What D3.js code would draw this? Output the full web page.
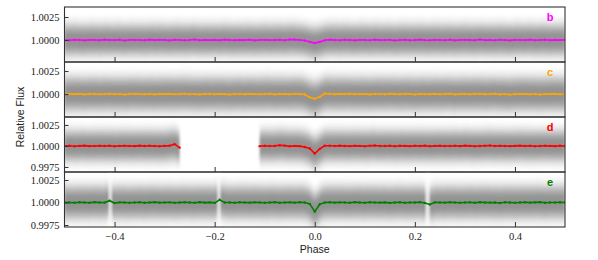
<!DOCTYPE html>
<html lang="en">
<head>
  <meta charset="UTF-8">
  <title>phase folded light curves</title>
  <script src="https://cdn.jsdelivr.net/npm/d3@7"></script>
  <style>
    body { margin: 0; background: #fff; }
  </style>
</head>
<body>
  <svg width="598" height="260" id="mainsvg"></svg>
  <script>
    // planets and their colours
    const planets = ['b', 'c', 'd', 'e'];
    const planetColors = ['#ff00ff', '#ffa500', '#ff0000', '#008000'];

    // tick labels
    const phaseTicks = [-0.4, -0.2, 0.0, 0.2, 0.4];
    const fluxTicks = [
      [1.0000, 1.0025],
      [1.0000, 1.0025],
      [0.9975, 1.0000, 1.0025],
      [0.9975, 1.0000, 1.0025]
    ];
    // y limits of each panel
    const fluxLimits = [
      [0.99761, 1.00359],
      [0.99752, 1.00348],
      [0.99690, 1.00345],
      [0.99728, 1.00339]
    ];

    // binned flux, offset from 1 in ppm, bins at phase -0.50 ... 0.50 (step 0.01)
    const bBinned = [
      10, -20, 30, 0, -40, 20, 10, -30, 40, 0,
      -10, 30, -50, 20, 0, 10, -30, 40, -10, 20,
      0, -40, 30, 10, -20, 0, 50, -30, 10, -10,
      20, -20, 40, 0, -30, 10, -10, 30, -40, 0,
      20, -10, 10, 30, -20, 60, 40, 0, -60, -200,
      -330,
      -200, -30, 40, 10, -20, 30, 0, -40, 20, 10,
      -30, 40, -10, 0, 20, -50, 10, 30, -20, 0,
      40, -10, -30, 20, 0, -20, 30, -40, 10, 20,
      0, -30, 50, -10, 10, -20, 30, 0, -40, 20,
      10, -10, 40, -20, 0, 30, -30, 10, -10, 20
    ];
    const cBinned = [
      -20, 10, 0, 30, -30, 10, 20, -10, 0, 40,
      -20, 10, -40, 20, 30, 0, -10, 20, -30, 10,
      0, 30, -20, 10, 40, -10, 0, -30, 20, 10,
      -10, 30, 0, -40, 20, 10, -20, 30, 0, -10,
      20, 40, -30, 10, 0, -20, 30, 10, -40, -350,
      -500,
      -300, 60, 20, -10, 30, 0, 40, -20, 10, 0,
      -30, 20, 10, -10, 40, 0, -20, 30, 10, -40,
      20, 0, -10, 30, -20, 10, 40, -30, 0, 20,
      -10, 10, 30, -20, 0, 40, -30, 10, -60, 20,
      0, 30, -10, 20, -40, 10, 0, 30, -20, 10
    ];
    const dBinned = [
      0, 20, -30, 10, 40, -20, 0, 30, -10, 20,
      -40, 10, 30, 0, -20, 40, -10, 20, 0, -30,
      10, 30, 220, -200,
      null, null, null, null, null, null, null, null, null, null, null, null, null, null, null,
      -20, 30, 0, 10, 90, 40, -30, 10, -20, -120, -300,
      -900,
      -350, 20, 30, -10, 40, 0, -20, 30, 10, -30,
      20, 50, -10, 0, 30, -40, 20, 10, -20, 30,
      0, 40, -30, 10, 20, -10, 0, 30, -20, 40,
      10, -30, 0, 20, 50, -10, 30, 0, -20, 10,
      40, -10, 20, -30, 0, 30, 10, -20, 20, 0
    ];
    const eBinned = [
      20, 0, -30, 30, 10, -20, 40, 0, -10, 200,
      -60, 20, 10, -30, 0, 30, -20, 10, 40, -10,
      0, 20, -30, 10, 30, 0, -20, 40, -10, 20,
      -40, 300, 10, 0, -20, 30, 10, -10, 20, 0,
      -30, 10, 40, -20, 0, 20, -10, 30, 0, -150,
      -1000,
      -200, 0, 30, -10, 20, 0, -30, 40, 10, -20,
      30, 0, -10, 20, -40, 10, 30, -20, 0, 10,
      40, -60, -220, 20, 0, -10, 30, 10, -30, 0,
      20, -20, 40, 10, -10, 0, -50, 30, 10, -20,
      0, 30, -10, 20, 40, -20, 10, 0, 30, 10
    ];
    const binnedPpm = [bBinned, cBinned, dBinned, eBinned];

    // spread of the unbinned points (half width of the dense cloud)
    const scatterSpread = [0.0012, 0.0013, 0.0013, 0.0013];
    // phase ranges with no unbinned points
    const dataGaps = [
      [],
      [],
      [],
      [[-0.411, -0.406], [-0.194, -0.189], [0.222, 0.229]]
    ];

    const svg = d3.select('#mainsvg');
    const margin = {top: 7, left: 64.5, right: 565};
    const panelH = 55;

    const defs = svg.append('defs');
    defs.append('filter').attr('id', 'soft')
      .attr('x', '-5%').attr('y', '-50%').attr('width', '110%').attr('height', '200%')
      .append('feGaussianBlur').attr('stdDeviation', '0.8 2.2');

    const xScale = d3.scaleLinear().domain([-0.5, 0.5]).range([margin.left, margin.right]);
    const phases = d3.range(101).map(i => -0.5 + i * 0.01);

    const layers = [
      {k: 2.0, op: 0.12},
      {k: 1.5, op: 0.25},
      {k: 1.1, op: 0.35},
      {k: 0.7, op: 0.4}
    ];

    planets.forEach((name, i) => {
      const top = margin.top + i * panelH;
      const bottom = top + panelH;
      const yScale = d3.scaleLinear().domain(fluxLimits[i]).range([bottom, top]);
      const pts = phases.map((p, j) => ({
        p: p,
        f: binnedPpm[i][j] == null ? null : 1 + binnedPpm[i][j] * 1e-6
      }));
      const s = scatterSpread[i];

      const g = svg.append('g');
      defs.append('clipPath').attr('id', 'clip' + i)
        .append('rect')
        .attr('x', margin.left).attr('y', top)
        .attr('width', margin.right - margin.left).attr('height', panelH);

      const plot = g.append('g').attr('clip-path', `url(#clip${i})`);
      const cloud = plot.append('g').attr('filter', 'url(#soft)');

      // cloud of unbinned points
      layers.forEach(l => {
        const area = d3.area()
          .defined(d => d.f != null)
          .x(d => xScale(d.p))
          .y0(d => yScale(d.f - l.k * s))
          .y1(d => yScale(d.f + l.k * s))
          .curve(d3.curveBasis);
        cloud.append('path').datum(pts)
          .attr('d', area)
          .attr('fill', '#6e6e6e')
          .attr('fill-opacity', l.op);
      });

      dataGaps[i].forEach(gp => {
        cloud.append('rect')
          .attr('x', xScale(gp[0]))
          .attr('width', xScale(gp[1]) - xScale(gp[0]))
          .attr('y', top).attr('height', panelH)
          .attr('fill', '#fff')
          .attr('fill-opacity', 0.8);
      });

      // binned curve
      const line = d3.line()
        .defined(d => d.f != null)
        .x(d => xScale(d.p))
        .y(d => yScale(d.f));
      plot.append('path').datum(pts)
        .attr('d', line)
        .attr('fill', 'none')
        .attr('stroke', planetColors[i])
        .attr('stroke-width', 1.6);
      plot.selectAll('circle.bin').data(pts.filter(d => d.f != null))
        .join('circle')
        .attr('class', 'bin')
        .attr('cx', d => xScale(d.p))
        .attr('cy', d => yScale(d.f))
        .attr('r', 1.2)
        .attr('fill', planetColors[i]);

      // axes
      const yAxis = d3.axisLeft(yScale)
        .tickValues(fluxTicks[i])
        .tickSize(-4)
        .tickPadding(5)
        .tickFormat(d3.format('.4f'));
      const yg = g.append('g').attr('transform', `translate(${margin.left},0)`).call(yAxis);

      const xAxis = d3.axisBottom(xScale)
        .tickValues(phaseTicks)
        .tickSize(-5)
        .tickPadding(6)
        .tickFormat(i === planets.length - 1 ? d3.format('.1f') : '');
      const xg = g.append('g').attr('transform', `translate(0,${bottom})`).call(xAxis);

      [yg, xg].forEach(ax => {
        ax.select('.domain').remove();
        ax.selectAll('.tick line').attr('stroke', '#333').attr('stroke-width', 1);
        ax.selectAll('.tick text')
          .attr('font-family', '"Liberation Serif", serif')
          .attr('font-size', '10.5px')
          .attr('fill', '#222');
      });

      g.append('rect')
        .attr('x', margin.left).attr('y', top)
        .attr('width', margin.right - margin.left).attr('height', panelH)
        .attr('fill', 'none')
        .attr('stroke', '#333')
        .attr('stroke-width', 1.1);

      g.append('text').text(name)
        .attr('x', 550).attr('y', top + 14)
        .attr('text-anchor', 'middle')
        .attr('font-family', '"Liberation Sans", sans-serif')
        .attr('font-weight', 'bold')
        .attr('font-size', '11px')
        .attr('fill', planetColors[i]);
    });

    svg.append('text').text('Phase')
      .attr('x', xScale(0)).attr('y', 253)
      .attr('text-anchor', 'middle')
      .attr('font-family', '"Liberation Sans", sans-serif')
      .attr('font-size', '10.5px')
      .attr('fill', '#222');

    svg.append('text').text('Relative Flux')
      .attr('transform', `translate(24,${margin.top + 2 * panelH}) rotate(-90)`)
      .attr('text-anchor', 'middle')
      .attr('font-family', '"Liberation Sans", sans-serif')
      .attr('font-size', '10.5px')
      .attr('fill', '#222');
  </script>
</body>
</html>
